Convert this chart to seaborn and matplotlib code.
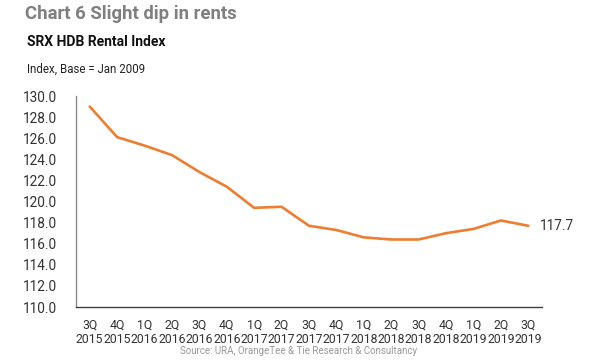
import matplotlib
matplotlib.use("Agg")
import matplotlib.pyplot as plt
import seaborn as sns
import pandas as pd

# -----------------------------
# DATA
# -----------------------------
quarters = ["3Q", "4Q", "1Q", "2Q", "3Q", "4Q", "1Q", "2Q", "3Q",
            "4Q", "1Q", "2Q", "3Q", "4Q", "1Q", "2Q", "3Q"]
years = ["2015", "2015", "2016", "2016", "2016", "2016", "2017", "2017", "2017",
         "2017", "2018", "2018", "2018", "2018", "2019", "2019", "2019"]
rental_index = [129.0, 126.1, 125.3, 124.4, 122.8, 121.4, 119.4, 119.5, 117.7,
                117.3, 116.6, 116.4, 116.4, 117.0, 117.4, 118.2, 117.7]

tick_labels = [f"{q}\n{y}" for q, y in zip(quarters, years)]
df = pd.DataFrame({"pos": range(len(rental_index)), "index": rental_index})

# -----------------------------
# STYLE
# -----------------------------
sns.set_theme(style="white")
plt.rcParams["font.family"] = ["Roboto", "DejaVu Sans"]

fig = plt.figure(figsize=(6, 3.6), dpi=100)
ax = fig.add_axes([0.1267, 0.1472, 0.7766, 0.5861])

sns.lineplot(data=df, x="pos", y="index", ax=ax, color="#ED7D31",
             linewidth=1.9, solid_joinstyle="round", solid_capstyle="round")

ax.set_xlim(-0.5, len(rental_index) - 0.5)
ax.set_ylim(110, 130)
ax.set_yticks([110 + 2 * i for i in range(11)])
ax.set_yticklabels([f"{110 + 2 * i:.1f}" for i in range(11)])
ax.set_xticks(range(len(rental_index)))
ax.set_xticklabels(tick_labels, linespacing=1.15)
ax.tick_params(axis="both", length=0, labelsize=9.8, labelcolor="#333333")
ax.tick_params(axis="x", pad=8, labelsize=8.8)
ax.tick_params(axis="y", pad=14)
ax.set_xlabel("")
ax.set_ylabel("")

for side in ["top", "right"]:
    ax.spines[side].set_visible(False)
ax.spines["left"].set_color("#8c8c8c")
ax.spines["bottom"].set_color("#404040")
ax.spines["left"].set_linewidth(1.0)
ax.spines["bottom"].set_linewidth(1.0)

# end label
ax.annotate(f"{rental_index[-1]:.1f}", xy=(len(rental_index) - 1, rental_index[-1]),
            xytext=(8, 0), textcoords="offset points", va="center", ha="left",
            fontsize=9.8, color="#333333")

# -----------------------------
# TITLES
# -----------------------------
fig.text(0.042, 0.946, "Chart 6 Slight dip in rents", fontsize=13.3, fontweight="bold",
         color="#7f7f7f", va="baseline", ha="left")
fig.text(0.045, 0.872, "SRX HDB Rental Index", fontsize=10, fontweight="bold",
         color="#111111", va="baseline", ha="left")
fig.text(0.045, 0.797, "Index, Base = Jan 2009", fontsize=8.3,
         color="#222222", va="baseline", ha="left")
fig.text(0.497, 0.012, "Source: URA, OrangeTee & Tie Research & Consultancy",
         fontsize=7, color="#9a9a9a", va="bottom", ha="center")

fig.savefig("out.png", dpi=100)
